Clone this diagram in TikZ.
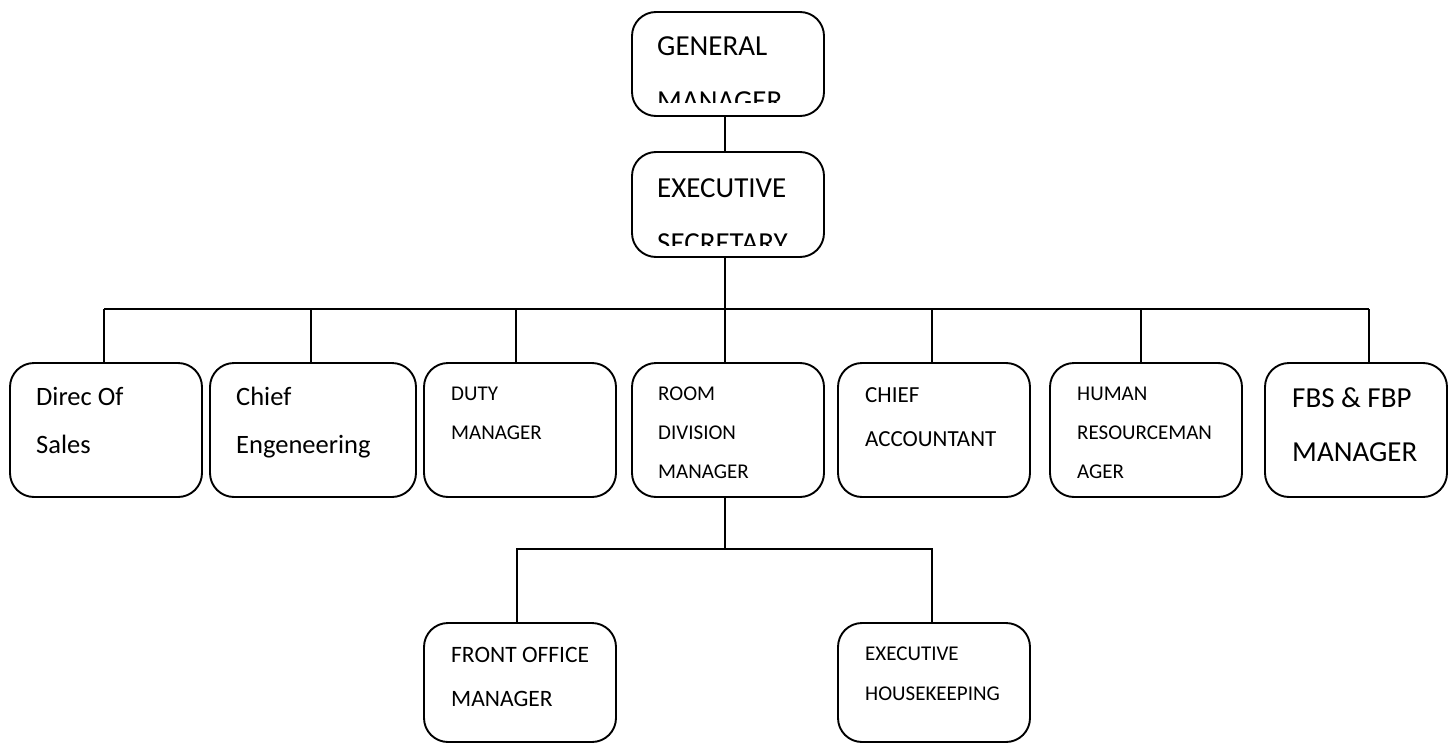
\documentclass[tikz,border=0pt]{standalone}
\usepackage{fontspec}
\setmainfont{Carlito}
\begin{document}
\begin{tikzpicture}[x=1pt,y=-1pt,
  box/.style={draw, line width=1.9pt, rounded corners=24pt, inner sep=0pt, minimum height=134pt},
  conn/.style={line width=1.7pt},
  lg/.style={anchor=base west, inner sep=0pt, font=\fontsize{29}{29}\selectfont},
  mdl/.style={anchor=base west, inner sep=0pt, font=\fontsize{26.5}{27}\selectfont},
  md/.style={anchor=base west, inner sep=0pt, font=\fontsize{23.5}{24}\selectfont},
  sm/.style={anchor=base west, inner sep=0pt, font=\fontsize{21}{21}\selectfont}]
\useasboundingbox (0,0) rectangle (1449,744);
% boxes
\node[box, minimum width=192pt, minimum height=104pt] (gm) at (728,64) {};
\node[box, minimum width=192pt, minimum height=105pt] (es) at (728,204.5) {};
\node[box, minimum width=192pt] (ds) at (106,430) {};
\node[box, minimum width=206pt] (ce) at (313,430) {};
\node[box, minimum width=192pt] (dm) at (520,430) {};
\node[box, minimum width=192pt] (rd) at (728,430) {};
\node[box, minimum width=192pt] (ca) at (934,430) {};
\node[box, minimum width=192pt] (hr) at (1146,430) {};
\node[box, minimum width=182pt] (fb) at (1356,430) {};
\node[box, minimum width=192pt, minimum height=119pt] (fo) at (520,682.5) {};
\node[box, minimum width=192pt, minimum height=119pt] (eh) at (934,682.5) {};
% texts
\node[lg] (gm1) at (657,55) {GENERAL};
\begin{scope}
\clip (632,12) rectangle (824,102);
\node[lg] (gm2) at (657,110) {MANAGER};
\end{scope}
\node[lg] (es1) at (657,197) {EXECUTIVE};
\begin{scope}
\clip (632,152) rectangle (824,245);
\node[lg] (es2) at (657,252) {SECRETARY};
\end{scope}
\node[mdl] (ds1) at (36,405) {Direc Of};
\node[mdl] (ds2) at (36,453) {Sales};
\node[mdl] (ce1) at (236,405) {Chief};
\node[mdl] (ce2) at (236,453) {Engeneering};
\node[sm] (dm1) at (451,400) {DUTY};
\node[sm] (dm2) at (451,439) {MANAGER};
\node[sm] (rd1) at (658,400) {ROOM};
\node[sm] (rd2) at (658,439) {DIVISION};
\node[sm] (rd3) at (658,478) {MANAGER};
\node[md, font=\fontsize{23}{23}\selectfont] (ca1) at (865,402) {CHIEF};
\node[md, font=\fontsize{23}{23}\selectfont] (ca2) at (865,446) {ACCOUNTANT};
\node[sm] (hr1) at (1077,400) {HUMAN};
\node[sm] (hr2) at (1077,439) {RESOURCEMAN};
\node[sm] (hr3) at (1077,478) {AGER};
\node[lg] (fb1) at (1292,407) {FBS \& FBP};
\node[lg] (fb2) at (1292,461) {MANAGER};
\node[md] (fo1) at (451,662) {FRONT OFFICE};
\node[md] (fo2) at (451,706) {MANAGER};
\node[sm] (eh1) at (865,660) {EXECUTIVE};
\node[sm] (eh2) at (865,700) {HOUSEKEEPING};
% connectors
\coordinate (bary) at (0,309);
\coordinate (lowy) at (0,549);
\coordinate (gmB) at ([xshift=-3pt]gm.south);
\coordinate (esB) at ([xshift=-3pt]es.south);
\coordinate (dsT) at ([xshift=-2pt]ds.north);
\coordinate (ceT) at ([xshift=-2pt]ce.north);
\coordinate (dmT) at ([xshift=-4pt]dm.north);
\coordinate (rdT) at ([xshift=-3pt]rd.north);
\coordinate (caT) at ([xshift=-2pt]ca.north);
\coordinate (hrT) at ([xshift=-5pt]hr.north);
\coordinate (fbT) at ([xshift=13pt]fb.north);
\coordinate (rdB) at ([xshift=-3pt]rd.south);
\coordinate (foT) at ([xshift=-3pt]fo.north);
\coordinate (ehT) at ([xshift=-2pt]eh.north);
\draw[conn] (gmB) -- (esB |- es.north);
\draw[conn] (esB) -- (esB |- bary);
\draw[conn] (dsT |- bary) -- (fbT |- bary);
\foreach \c in {dsT,ceT,dmT,rdT,caT,hrT,fbT} \draw[conn] (\c) -- (\c |- bary);
\draw[conn] (rdB) -- (rdB |- lowy);
\draw[conn] (foT) -- (foT |- lowy) -- (ehT |- lowy) -- (ehT);
\end{tikzpicture}
\end{document}
